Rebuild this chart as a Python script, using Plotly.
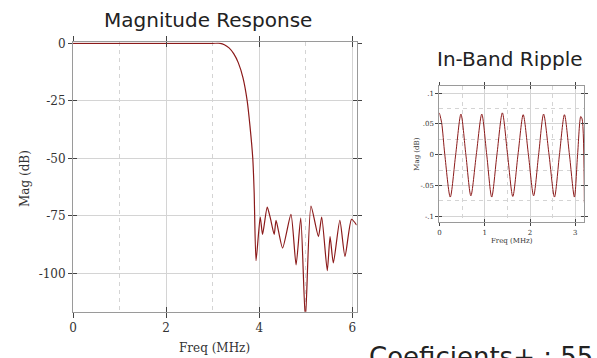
import plotly.graph_objects as go

W, H = 597, 358

# ---------------- data ----------------
# Magnitude response (dB) vs frequency (MHz)
mag_freq = [0.0, 1.0, 2.0, 3.0, 3.16, 3.25, 3.35, 3.45, 3.55, 3.65, 3.74, 3.80, 3.86, 3.89, 3.93,
            4.02, 4.07, 4.17, 4.24, 4.32, 4.36, 4.50, 4.68, 4.79, 4.89, 4.99,
            5.11, 5.27, 5.34, 5.46, 5.52, 5.59, 5.73, 5.84, 5.98, 6.09]
mag_db = [0.0, 0.0, 0.0, 0.0, 0.0, -0.6, -2.0, -4.5, -8.5, -15.0, -25.0, -36.0, -50.0, -65.0, -94.5,
          -75.5, -83.1, -71.2, -76.2, -83.1, -77.0, -89.0, -74.4, -96.3, -76.0, -120.0,
          -70.8, -84.0, -75.5, -98.8, -84.0, -95.5, -77.0, -92.7, -76.5, -79.0]

# In-band ripple (dB) vs frequency (MHz)
rip_freq = [0.00, 0.05, 0.12, 0.24, 0.36, 0.476, 0.585, 0.695, 0.815, 0.936, 1.045, 1.155,
            1.27, 1.39, 1.505, 1.62, 1.735, 1.85, 1.965, 2.08, 2.19, 2.30, 2.42, 2.54,
            2.65, 2.76, 2.87, 2.98, 3.05, 3.12, 3.15, 3.20]
rip_db = [0.068, 0.052, 0.000, -0.069, 0.000, 0.066, 0.000, -0.067, 0.000, 0.066, 0.000, -0.069,
          0.000, 0.068, 0.000, -0.068, 0.000, 0.065, 0.000, -0.067, 0.000, 0.066, 0.000, -0.069,
          0.000, 0.065, 0.000, -0.069, 0.000, 0.062, 0.058, -0.078]

main_xticks = [0, 2, 4, 6]
main_yticks = [0, -25, -50, -75, -100]
main_yticklabels = ["0", "-25", "-50", "-75", "-100"]
rip_xticks = [0, 1, 2, 3]
rip_yticks = [0.1, 0.05, 0, -0.05, -0.1]
rip_yticklabels = [".1", ".05", "0", "-.05", "-.1"]

title_main = "Magnitude Response"
title_rip = "In-Band Ripple"
coef_text = "Coeficients+ : 55"
xlab = "Freq (MHz)"
ylab = "Mag (dB)"

# ---------------- layout helpers ----------------
def px_x(p):
    return p / W

def px_y(p):
    return 1 - p / H

LINE = "#8B1A1A"
GRID = "#d4d4d4"
SPINE = "#9a9a9a"
TICK = "#444444"
SERIF = "DejaVu Serif"
SANS = "DejaVu Sans"

main_dom_x = [px_x(69.5), px_x(355)]
main_dom_y = [px_y(311), px_y(37)]
rip_dom_x = [px_x(438.3), px_x(584.3)]
rip_dom_y = [px_y(220), px_y(81)]

main_xr = [0, 6.09]
main_yr = [-116.7, 0.4]
rip_xr = [0, 3.2]
rip_yr = [-0.1101, 0.1123]

fig = go.Figure()
fig.add_trace(go.Scatter(x=mag_freq, y=mag_db, mode="lines", xaxis="x", yaxis="y",
                         line=dict(color=LINE, width=1.2, shape="spline", smoothing=0.6),
                         showlegend=False, hoverinfo="skip"))
fig.add_trace(go.Scatter(x=rip_freq, y=rip_db, mode="lines", xaxis="x2", yaxis="y2",
                         line=dict(color=LINE, width=1, shape="spline", smoothing=0.8),
                         showlegend=False, hoverinfo="skip"))
# empty traces to instantiate the overlay axes (inner half of crossing ticks)
fig.add_trace(go.Scatter(x=[], y=[], xaxis="x3", yaxis="y3", showlegend=False, hoverinfo="skip"))
fig.add_trace(go.Scatter(x=[], y=[], xaxis="x4", yaxis="y4", showlegend=False, hoverinfo="skip"))

def base_axis(dom, rng, tickvals, ticktext, fs, minor_dtick, ticklen):
    ax = dict(domain=dom, range=rng, tickmode="array", tickvals=tickvals, ticktext=ticktext,
              showline=True, linecolor=SPINE, linewidth=1, mirror="ticks",
              ticks="outside", ticklen=ticklen, tickwidth=1, tickcolor=TICK,
              showgrid=True, gridcolor=GRID, gridwidth=1, zeroline=False,
              tickfont=dict(family=SERIF, size=fs, color="#333"), fixedrange=True)
    if minor_dtick is not None:
        ax["minor"] = dict(dtick=minor_dtick, showgrid=True, griddash="4px,4px",
                           gridcolor=GRID, gridwidth=1, ticks="")
    return ax

def overlay_axis(over, anchor, rng, tickvals, ticklen):
    return dict(overlaying=over, anchor=anchor, range=rng, tickmode="array", tickvals=tickvals,
                showticklabels=False, showline=False, showgrid=False, zeroline=False,
                ticks="inside", ticklen=ticklen, tickwidth=1, tickcolor=TICK, mirror="ticks",
                fixedrange=True)

xa = base_axis(main_dom_x, main_xr, main_xticks, [str(v) for v in main_xticks], 12, 1, 5)
xa["anchor"] = "y"
ya = base_axis(main_dom_y, main_yr, main_yticks, main_yticklabels, 12, None, 4)
ya["anchor"] = "x"
xa2 = base_axis(rip_dom_x, rip_xr, rip_xticks, [str(v) for v in rip_xticks], 7, 0.5, 3)
xa2["anchor"] = "y2"
ya2 = base_axis(rip_dom_y, rip_yr, rip_yticks, rip_yticklabels, 7, 0.025, 3)
ya2["anchor"] = "x2"

fig.update_layout(
    width=W, height=H, margin=dict(l=0, r=0, t=0, b=0),
    paper_bgcolor="white", plot_bgcolor="rgba(0,0,0,0)",
    xaxis=xa, yaxis=ya, xaxis2=xa2, yaxis2=ya2,
    xaxis3=overlay_axis("x", "y3", main_xr, main_xticks, 5),
    yaxis3=overlay_axis("y", "x3", main_yr, main_yticks, 4),
    xaxis4=overlay_axis("x2", "y4", rip_xr, rip_xticks, 3),
    yaxis4=overlay_axis("y2", "x4", rip_yr, rip_yticks, 3),
    showlegend=False,
)

def ann(text, x, y, size, family, angle=0, xanchor="center", yanchor="middle", color="#222"):
    fig.add_annotation(text=text, x=px_x(x), y=px_y(y), xref="paper", yref="paper",
                       showarrow=False, textangle=angle, xanchor=xanchor, yanchor=yanchor,
                       font=dict(family=family, size=size, color=color))

ann(title_main, 205, 14, 20, SANS)
ann(title_rip, 509, 54, 20, SANS)
ann(xlab, 212, 348, 12, SERIF, color="#333")
ann(ylab, 21, 175, 12, SERIF, angle=-90, color="#333")
ann(xlab, 511, 239, 7, SERIF, color="#333")
ann(ylab, 416, 151, 7, SERIF, angle=-90, color="#333")
ann(coef_text, 365, 357, 26, SANS, xanchor="left")

fig.write_html("out.html", config={"displayModeBar": False},
               post_script="document.body.style.margin='0';document.body.style.overflow='hidden';")
